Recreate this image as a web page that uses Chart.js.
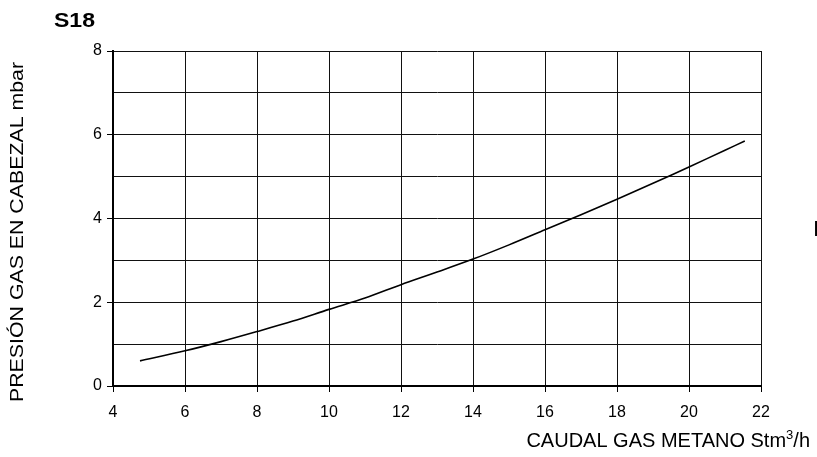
<!DOCTYPE html>
<html>
<head>
<meta charset="utf-8">
<script src="https://cdn.jsdelivr.net/npm/chart.js@4"></script>
<style>
  html, body { margin: 0; padding: 0; background: #fff; }
  #wrap { width: 817px; height: 457px; }
</style>
</head>
<body>
<div id="wrap"><canvas id="grafico" width="817" height="457"></canvas></div>
<script>
const caudal = [4.75, 6, 7, 8, 9, 10, 11, 12, 13, 14, 15, 16, 17, 18, 19, 20, 21, 21.55];
const presion = [0.6, 0.84, 1.06, 1.3, 1.55, 1.83, 2.1, 2.42, 2.72, 3.03, 3.37, 3.73, 4.09, 4.46, 4.84, 5.23, 5.63, 5.85];
const xTicks = [4, 6, 8, 10, 12, 14, 16, 18, 20, 22];
const yTicks = [0, 2, 4, 6, 8];

const fuente = '"Liberation Sans", Arial, sans-serif';

// escribe un texto ajustado a un ancho dado (la fuente del original esta estirada)
function textoAncho(c, txt, x, y, ancho) {
  const w = c.measureText(txt).width;
  c.save();
  c.translate(x, y);
  c.scale(ancho / w, 1);
  c.fillText(txt, 0, 0);
  c.restore();
}

// textos fuera del area: titulo, ejes y la letra cortada a la derecha
const textos = {
  id: 'textos',
  afterDraw(chart) {
    const c = chart.ctx;
    c.save();
    c.fillStyle = '#000';
    c.textBaseline = 'alphabetic';
    c.textAlign = 'left';

    c.font = 'bold 20px ' + fuente;
    textoAncho(c, 'S18', 54, 27, 41);

    // eje x con superindice
    const grande = '20px ' + fuente, chico = '13px ' + fuente;
    const a = 'CAUDAL GAS METANO Stm', b = '3', d = '/h';
    c.font = grande; const wa = c.measureText(a).width, wd = c.measureText(d).width;
    c.font = chico; const wb = c.measureText(b).width;
    const x0 = 810 - (wa + wb + wd);
    c.font = grande; c.fillText(a, x0, 447);
    c.font = chico; c.fillText(b, x0 + wa, 439);
    c.font = grande; c.fillText(d, x0 + wa + wb, 447);

    // eje y
    c.save();
    c.translate(23, 232);
    c.rotate(-Math.PI / 2);
    c.font = '18px ' + fuente;
    textoAncho(c, 'PRESIÓN GAS EN CABEZAL mbar', -170, 0, 340);
    c.restore();

    c.font = '22px ' + fuente;
    c.fillText('I', 813, 236);
    c.restore();
  }
};

const ctx = document.getElementById('grafico').getContext('2d');
new Chart(ctx, {
  type: 'line',
  data: {
    datasets: [{
      data: caudal.map((x, i) => ({ x: x, y: presion[i] })),
      borderColor: '#000',
      borderWidth: 1.6,
      pointRadius: 0,
      tension: 0.3,
      fill: false
    }]
  },
  options: {
    responsive: false,
    animation: false,
    layout: { padding: { left: 0, right: 56, top: 51, bottom: 0 } },
    plugins: { legend: { display: false }, tooltip: { enabled: false } },
    scales: {
      x: {
        type: 'linear',
        min: xTicks[0],
        max: xTicks[xTicks.length - 1],
        afterFit: s => { s.height = 71; },
        afterBuildTicks: s => { s.ticks = xTicks.map(v => ({ value: v })); },
        ticks: { color: '#000', font: { family: fuente, size: 16 }, padding: 11, maxRotation: 0 },
        grid: { color: '#111', lineWidth: 1, tickLength: 6, tickColor: '#000' },
        border: { color: '#000', width: 2 }
      },
      y: {
        min: yTicks[0],
        max: yTicks[yTicks.length - 1],
        afterFit: s => { s.width = 113; },
        ticks: {
          stepSize: 1,
          color: '#000',
          font: { family: fuente, size: 16 },
          padding: 5,
          callback: v => yTicks.includes(v) ? v : ''
        },
        grid: {
          color: '#111',
          lineWidth: 1,
          tickLength: 6,
          tickColor: c => (c.tick && yTicks.includes(c.tick.value)) ? '#000' : 'rgba(0,0,0,0)'
        },
        border: { color: '#000', width: 2 }
      }
    }
  },
  plugins: [textos]
});
</script>
</body>
</html>
